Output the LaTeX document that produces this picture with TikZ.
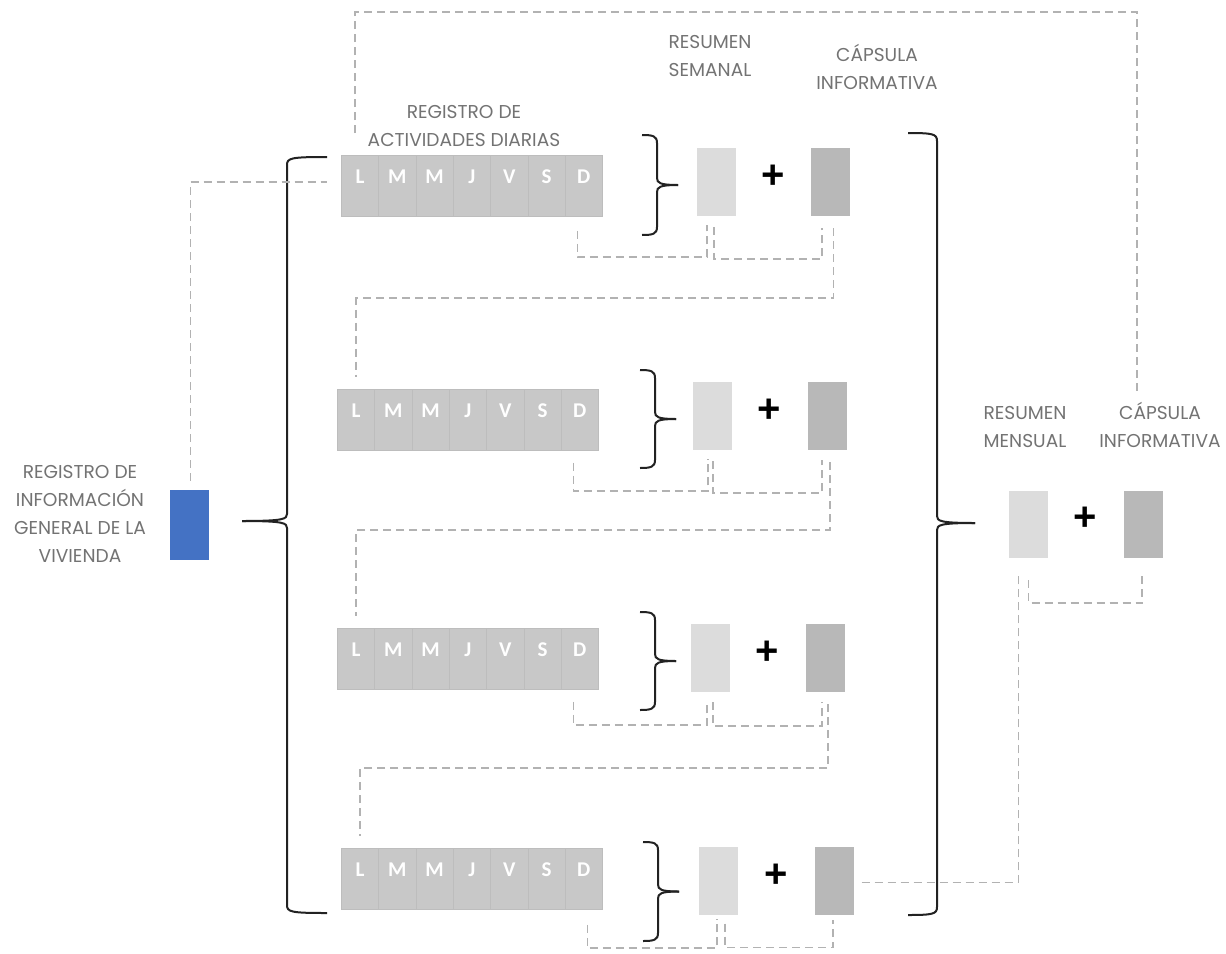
\documentclass[tikz,border=0pt]{standalone}
\usepackage{fontspec}
\setmainfont{Poppins}
\newfontfamily\dayfont{Carlito}
\newfontfamily\plusfont{Liberation Sans}
\usetikzlibrary{calc}

\definecolor{labelgray}{HTML}{737373}
\definecolor{cellgray}{HTML}{C8C8C8}
\definecolor{celledge}{HTML}{BDBDBD}
\definecolor{weekgray}{HTML}{DCDCDC}
\definecolor{capgray}{HTML}{B8B8B8}
\definecolor{linkgray}{HTML}{B2B2B2}
\definecolor{homeblue}{HTML}{4472C4}
\definecolor{braceink}{HTML}{222222}

\tikzset{
  label text/.style={text=labelgray, font=\fontsize{18.6}{28}\selectfont, align=center, inner sep=0pt},
  daycell/.style={draw=celledge, line width=0.8pt, fill=cellgray, minimum width=37.3pt,
    minimum height=61pt, inner sep=0pt, anchor=north west},
  dayletter/.style={text=white, font=\dayfont\bfseries\fontsize{21}{21}\selectfont, inner sep=0pt},
  weekbox/.style={fill=weekgray, minimum width=39pt, minimum height=68pt, inner sep=0pt},
  capbox/.style={fill=capgray, minimum width=39pt, minimum height=68pt, inner sep=0pt},
  homebox/.style={fill=homeblue, minimum width=39pt, minimum height=70pt, inner sep=0pt},
  plussign/.style={font=\plusfont\bfseries\fontsize{40}{40}\selectfont, inner sep=0pt},
  link/.style={draw=linkgray, line width=1.5pt, dash pattern=on 8pt off 5pt},
  bracepen/.style={draw=braceink, line width=2pt, line join=round}
}

% closing brace: x, top, bottom, tip y, arm length, tip length
\newcommand{\closingbrace}[6]{%
  \draw[bracepen] ({#1-#5},#2) .. controls ({#1-4},#2) and (#1,{#2+1}) .. (#1,{#2+8})
     -- (#1,{#4-7}) .. controls (#1,{#4-2}) and ({#1+3},#4) .. ({#1+#6},#4);
  \draw[bracepen] ({#1+#6},#4) .. controls ({#1+3},#4) and (#1,{#4+2}) .. (#1,{#4+7})
     -- (#1,{#3-8}) .. controls (#1,{#3-1}) and ({#1-4},#3) .. ({#1-#5},#3);
}
% opening brace: x, top, bottom, tip y, arm length, tip length
\newcommand{\openingbrace}[6]{%
  \draw[bracepen] ({#1+#5},#2) .. controls ({#1+4},#2) and (#1,{#2+1}) .. (#1,{#2+8})
     -- (#1,{#4-7}) .. controls (#1,{#4-2}) and ({#1-3},#4) .. ({#1-#6},#4);
  \draw[bracepen] ({#1-#6},#4) .. controls ({#1-3},#4) and (#1,{#4+2}) .. (#1,{#4+7})
     -- (#1,{#3-8}) .. controls (#1,{#3-1}) and ({#1+4},#3) .. ({#1+#5},#3);
}

\begin{document}
\begin{tikzpicture}[x=1pt, y=-1pt]
\useasboundingbox (0,0) rectangle (1226,953);
\fill[white] (0,0) rectangle (1226,953);

% weekly rows: day strip, brace, weekly summary + capsule
\foreach \r/\lx/\ty/\bx/\bt/\bb/\wx/\wy/\cx in {
    1/341/155/657/135/235/716.5/182/830.5,
    2/337/389/655/370/468/712/416/827,
    3/337/628/655/612/710/710/658/825,
    4/341/848/658/842/941/718/880.5/834} {
  \foreach \d [count=\i] in {L,M,M,J,V,S,D} {
    \node[daycell] (d\r-\i) at ({\lx+(\i-1)*37.3},\ty) {};
    \node[dayletter] (t\r-\i) at ($(d\r-\i.north)+(0,22)$) {\d};
  }
  \pgfmathsetmacro{\tipy}{(\bt+\bb)/2}
  \pgfmathsetmacro{\plusx}{(\wx+\cx)/2}
  \pgfmathsetmacro{\plusy}{\wy-5}
  \closingbrace{\bx}{\bt}{\bb}{\tipy}{15}{21}
  \node[weekbox] (w\r) at (\wx,\wy) {};
  \node[capbox] (c\r) at (\cx,\wy) {};
  \node[plussign] (p\r) at (\plusx,\plusy) {+};
}

% strip -> weekly summary -> capsule, under each row
\foreach \r/\ax/\ad/\wxo/\wd/\wu/\sx/\su/\cxo/\cd/\cu in {
    1/-6.5/14/-9.5/41/9/-2.5/11/-8.5/43/12,
    2/-6.5/12/-4/41/9/1/11/-5/43/10,
    3/-6.5/12/-3/33/9/3/10/-3/34/10,
    4/3.5/15/-1/33.5/4/7/9/-1/33/5} {
  \draw[link] ($(d\r-7.south)+(\ax,\ad)$) |- ($(w\r.south)+(\wxo,\wd)$) -- ($(w\r.south)+(\wxo,\wu)$);
  \draw[link] ($(w\r.south)+(\sx,\su)$) |- ($(c\r.south)+(\cxo,\cd)$) -- ($(c\r.south)+(\cxo,\cu)$);
}

% capsule of one week -> strip of the next week
\foreach \r/\n/\dy in {1/2/82, 2/3/80, 3/4/76} {
  \draw[link] ($(c\r.south)+(3,12)$) -- ($(c\r.south)+(3,\dy)$) -| ($(d\n-1.north)+(0,-12)$);
}

% labels of the weekly column
\node[label text] (regact) at (464,126) {REGISTRO DE\\ACTIVIDADES DIARIAS};
\node[label text] (resw) at (710,56) {RESUMEN\\SEMANAL};
\node[label text] (capw) at (877,67) {CÁPSULA\\INFORMATIVA};

% household record
\node[homebox] (home) at (189.5,525) {};
\node[label text] (homelabel) at (80,514) {REGISTRO DE\\INFORMACIÓN\\GENERAL DE LA\\VIVIENDA};
\openingbrace{287}{157}{913}{521}{40}{45}
\draw[link] ($(home.north)+(1,-9)$) |- ($(d1-1.west)+(-14,-4)$);

% monthly summary
\closingbrace{937}{133}{915}{523}{29}{38}
\node[weekbox, minimum height=67pt] (wm) at (1028.5,524.5) {};
\node[capbox, minimum height=67pt] (cm) at (1143,524.5) {};
\node[plussign] (pm) at (1085,519) {+};
\node[label text] (resm) at (1025,427) {RESUMEN\\MENSUAL};
\node[label text] (capm) at (1160,425) {CÁPSULA\\INFORMATIVA};

\draw[link] ($(c4.east)+(8,2)$) -| ($(wm.south)+(-10,14)$);
\draw[link] ($(wm.south)+(0,22)$) |- ($(cm.south)+(-1,45)$) -- ($(cm.south)+(-1,14)$);

% monthly capsule feeds back to the first week
\coordinate (railtop) at (1137,12);
\draw[link] ($(d1-1.north)+(-5,-22)$) |- (railtop) -- ($(railtop |- capm.north)+(0,-8)$);
\end{tikzpicture}
\end{document}
